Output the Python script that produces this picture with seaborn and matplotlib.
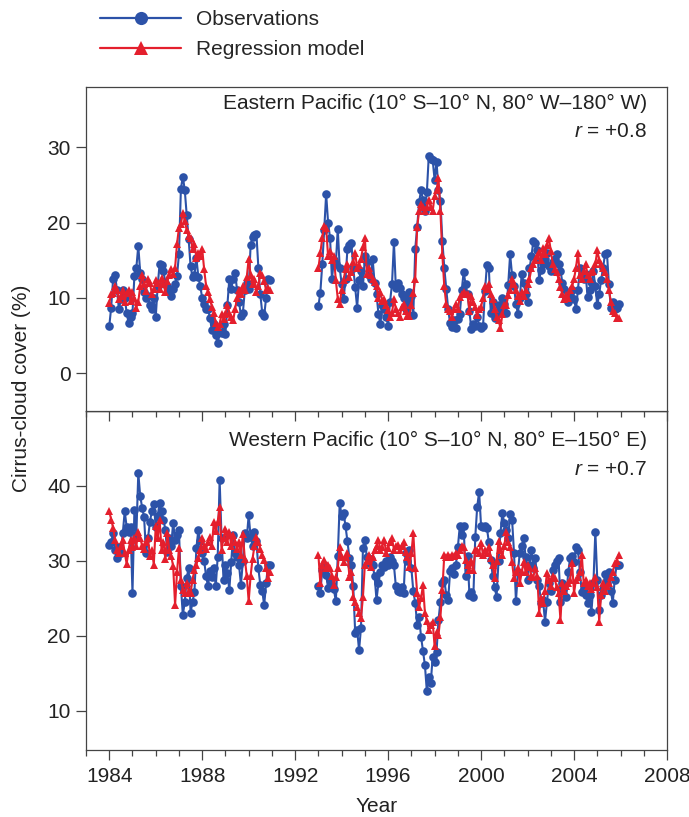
import numpy as np
import pandas as pd
import matplotlib
matplotlib.use("Agg")
import matplotlib.pyplot as plt
from matplotlib.lines import Line2D
from matplotlib.ticker import MultipleLocator, NullFormatter
import seaborn as sns

# monthly values, Jan 1984 - Dec 1990 and Jan 1993 - Dec 2005 (one row per year)
east_obs_a = [
    6.2, 8.7, 12.5, 13.0, 11.0, 8.5, 9.8, 11.0, 10.0, 8.0, 6.6, 7.5,
    8.0, 12.9, 14.0, 16.9, 13.3, 12.5, 10.8, 10.0, 10.2, 9.0, 8.5, 10.0,
    7.4, 11.5, 14.5, 14.3, 13.5, 12.0, 11.5, 11.0, 10.3, 11.2, 11.8, 12.9,
    15.8, 24.5, 26.1, 24.3, 21.0, 17.8, 14.2, 12.7, 13.0, 15.3, 12.8, 11.5,
    10.0, 9.2, 8.5, 8.5, 7.3, 5.7, 6.5, 5.0, 4.0, 5.5, 5.3, 6.5,
    5.2, 9.0, 12.5, 11.2, 12.5, 13.3, 11.0, 9.5, 7.6, 8.0, 11.0, 12.0,
    11.2, 17.0, 18.1, 18.3, 18.5, 14.0, 10.5, 8.0, 7.6, 10.0, 12.5, 12.3,
]
east_mod_a = [
    9.3, 10.5, 10.7, 11.5, 11.0, 9.8, 10.2, 11.0, 9.5, 10.6, 11.0, 9.6,
    10.8, 10.0, 8.7, 9.5, 11.5, 13.0, 11.8, 10.9, 12.5, 12.0, 10.5, 11.2,
    12.3, 12.0, 11.2, 12.6, 11.8, 10.8, 12.2, 13.0, 13.8, 13.2, 14.0, 17.2,
    19.3, 19.8, 21.3, 20.2, 19.0, 18.2, 18.0, 16.5, 17.2, 15.3, 16.0, 15.5,
    16.5, 13.8, 11.6, 10.8, 9.8, 8.8, 8.0, 6.6, 6.1, 6.5, 7.8, 7.2,
    7.8, 9.0, 8.0, 7.5, 7.0, 8.5, 10.0, 11.0, 10.5, 11.5, 11.0, 12.7,
    15.2, 13.0, 11.8, 12.5, 10.8, 11.5, 13.3, 13.0, 12.2, 11.0, 11.3, 11.0,
]
east_obs_b = [
    8.9, 10.7, 14.5, 19.0, 23.8, 20.0, 18.0, 12.5, 15.0, 14.5, 19.2, 14.0,
    11.8, 9.8, 12.5, 16.5, 17.0, 17.3, 14.0, 11.4, 8.7, 12.4, 13.5, 11.5,
    15.5, 14.8, 13.0, 12.5, 15.2, 12.0, 10.5, 7.9, 6.5, 9.0, 8.5, 7.5,
    6.3, 9.5, 11.8, 17.4, 11.3, 12.0, 11.3, 10.5, 10.0, 8.5, 9.5, 10.8,
    10.2, 7.7, 16.5, 19.4, 22.7, 24.3, 23.0, 21.5, 24.0, 28.9, 28.5, 28.3,
    25.7, 28.1, 24.3, 22.9, 17.6, 14.0, 11.2, 8.5, 6.6, 6.1, 7.0, 6.0,
    7.2, 7.8, 11.0, 13.4, 11.8, 10.5, 8.2, 5.8, 6.5, 6.2, 7.5, 6.3,
    6.0, 6.2, 10.9, 14.3, 14.0, 8.0, 9.5, 7.3, 8.0, 9.0, 8.5, 10.0,
    9.2, 8.0, 11.7, 15.8, 13.0, 11.5, 9.2, 7.9, 10.0, 13.2, 12.0, 10.5,
    9.4, 13.9, 15.5, 17.6, 17.3, 16.4, 12.4, 13.7, 14.5, 15.1, 16.0, 14.2,
    13.5, 14.8, 15.2, 15.8, 14.5, 13.6, 12.0, 11.2, 10.0, 9.5, 10.4, 11.0,
    9.8, 8.5, 11.0, 14.0, 13.0, 12.5, 13.1, 10.1, 11.0, 12.1, 13.5, 11.5,
    9.0, 10.5, 12.4, 14.0, 15.8, 15.9, 11.8, 8.7, 9.5, 8.5, 8.7, 9.2,
]
east_mod_b = [
    13.9, 16.0, 18.0, 19.6, 19.3, 15.5, 16.2, 15.0, 15.5, 12.3, 9.9, 9.2,
    11.0, 12.4, 13.8, 14.5, 12.8, 13.4, 14.8, 15.9, 14.0, 14.4, 15.2, 16.7,
    18.0, 13.2, 14.0, 13.0, 12.5, 12.1, 11.5, 10.0, 10.8, 9.6, 9.8, 9.0,
    8.4, 7.4, 8.0, 9.8, 8.5, 8.0, 7.4, 8.8, 9.2, 8.3, 7.6, 7.6,
    9.0, 10.7, 12.5, 19.4, 21.5, 22.5, 22.0, 21.5, 22.0, 23.0, 22.0, 21.5,
    23.5, 24.3, 25.9, 21.5, 15.7, 11.5, 9.2, 8.5, 8.3, 7.4, 8.5, 9.2,
    8.5, 10.1, 10.5, 10.8, 10.5, 10.5, 8.3, 10.3, 9.5, 8.8, 7.7, 8.5,
    8.8, 10.0, 11.5, 11.2, 11.8, 10.5, 9.8, 8.5, 7.5, 7.0, 6.0, 7.8,
    9.1, 9.0, 10.4, 11.0, 12.5, 11.8, 11.0, 10.2, 9.6, 10.8, 10.3, 11.0,
    11.8, 12.5, 13.9, 14.5, 15.0, 15.5, 16.1, 15.0, 16.6, 15.8, 17.0, 18.0,
    16.2, 14.5, 13.8, 13.4, 12.5, 11.4, 10.5, 9.8, 10.4, 10.0, 11.0, 11.5,
    12.5, 14.0, 16.0, 13.0, 12.5, 13.5, 14.5, 13.0, 12.5, 13.4, 13.6, 14.5,
    16.3, 15.0, 14.5, 14.0, 13.4, 12.5, 11.0, 9.5, 8.3, 8.0, 7.3, 7.3,
]
west_obs_a = [
    32.1, 32.5, 33.7, 31.5, 30.4, 31.9, 31.0, 33.7, 36.6, 34.5, 33.9, 34.5,
    25.7, 36.8, 33.5, 41.7, 38.6, 37.1, 35.8, 31.0, 33.0, 35.2, 36.6, 37.6,
    34.5, 36.0, 37.7, 36.6, 35.5, 34.1, 31.2, 33.0, 32.0, 35.1, 32.8, 33.5,
    34.1, 26.6, 22.8, 24.5, 27.7, 29.1, 23.1, 24.5, 25.9, 31.7, 34.1, 32.6,
    31.0, 30.0, 28.0, 26.6, 28.6, 27.8, 29.0, 26.6, 30.5, 40.8, 33.0, 27.5,
    29.5, 28.4, 26.1, 29.9, 33.5, 31.0, 30.5, 29.5, 26.8, 30.0, 33.7, 33.0,
    36.1, 33.2, 32.0, 33.9, 32.6, 29.0, 26.8, 26.0, 24.1, 27.0, 29.5, 29.5,
]
west_mod_a = [
    36.6, 35.5, 34.4, 32.8, 31.5, 31.0, 32.0, 32.8, 31.0, 29.6, 31.5, 32.8,
    31.8, 33.0, 32.0, 33.9, 33.0, 32.0, 31.6, 32.5, 33.0, 30.7, 31.5, 29.5,
    34.6, 33.0, 35.5, 31.5, 32.5, 30.2, 33.7, 31.5, 30.6, 29.3, 24.1, 28.5,
    31.7, 27.5, 26.1, 25.7, 27.0, 26.0, 25.7, 27.5, 28.8, 29.5, 30.4, 31.5,
    33.0, 32.0, 31.6, 32.5, 33.2, 32.0, 35.2, 34.0, 35.2, 37.2, 31.5, 33.0,
    34.2, 32.5, 33.8, 32.0, 33.5, 32.5, 31.6, 32.5, 30.8, 33.6, 30.3, 28.0,
    24.6, 28.0, 30.3, 32.0, 33.2, 32.5, 31.6, 30.8, 30.1, 29.0, 27.7, 28.5,
]
west_obs_b = [
    26.6, 25.7, 28.8, 29.5, 28.1, 26.4, 27.5, 26.8, 26.2, 24.6, 30.6, 37.7,
    36.0, 36.4, 34.6, 32.6, 30.4, 29.5, 26.6, 20.4, 20.8, 18.1, 21.1, 31.7,
    32.8, 30.5, 29.7, 30.2, 29.4, 28.0, 24.8, 27.0, 28.5, 29.4, 29.2, 30.0,
    29.4, 30.5, 30.0, 29.4, 26.6, 26.0, 25.9, 26.5, 25.7, 31.1, 30.0, 31.5,
    29.0, 26.0, 24.4, 21.5, 22.5, 19.9, 18.0, 16.1, 12.6, 14.5, 13.7, 17.2,
    16.5, 17.9, 22.1, 24.5, 27.0, 27.5, 25.5, 24.8, 28.6, 29.0, 28.3, 29.5,
    31.8, 34.6, 33.5, 34.6, 28.0, 30.6, 25.5, 25.9, 25.2, 33.2, 37.2, 39.2,
    34.6, 34.5, 34.6, 34.4, 32.5, 30.1, 28.0, 26.5, 25.2, 30.0, 33.7, 36.4,
    35.0, 34.1, 33.0, 36.3, 35.5, 31.1, 24.6, 28.5, 31.1, 32.0, 33.0, 30.5,
    27.5, 29.5, 31.5, 29.0, 30.4, 27.5, 26.6, 24.4, 24.8, 21.9, 24.5, 27.0,
    26.0, 28.8, 29.5, 30.0, 30.4, 24.5, 27.0, 26.5, 25.2, 28.5, 30.4, 30.6,
    29.8, 31.8, 31.5, 28.5, 25.9, 26.3, 25.5, 24.4, 25.5, 23.2, 27.0, 33.9,
    27.5, 23.5, 25.5, 26.3, 28.3, 27.0, 28.5, 26.0, 24.4, 27.5, 29.5, 29.5,
]
west_mod_b = [
    30.8, 27.0, 29.5, 30.1, 29.0, 29.5, 29.1, 28.0, 26.8, 27.9, 29.0, 31.9,
    30.5, 29.9, 30.5, 31.1, 27.9, 28.5, 25.2, 24.5, 23.9, 23.0, 22.4, 25.2,
    29.5, 30.0, 30.8, 29.2, 30.5, 31.5, 32.0, 32.8, 31.5, 31.9, 32.8, 31.0,
    31.7, 32.5, 33.0, 31.5, 32.0, 32.1, 31.5, 32.0, 32.5, 31.2, 30.5, 29.2,
    31.0, 33.7, 29.1, 25.7, 23.9, 25.0, 26.8, 23.1, 22.0, 20.8, 21.5, 21.9,
    18.6, 20.5, 20.1, 22.5, 26.1, 30.8, 30.5, 30.8, 30.5, 30.8, 30.6, 31.0,
    30.8, 31.5, 32.0, 31.9, 30.1, 29.5, 28.8, 30.0, 28.8, 31.5, 31.5, 31.0,
    32.4, 30.8, 31.5, 31.0, 31.9, 30.4, 29.5, 27.7, 30.0, 32.6, 31.5, 30.8,
    32.0, 33.9, 32.5, 31.8, 29.8, 27.7, 28.5, 29.1, 27.0, 28.5, 29.9, 28.5,
    29.5, 29.2, 28.0, 27.9, 29.0, 28.0, 23.1, 25.0, 24.4, 26.0, 28.4, 27.5,
    26.6, 28.0, 27.7, 26.5, 25.7, 22.1, 27.0, 26.0, 26.6, 27.0, 27.5, 29.7,
    25.7, 27.5, 27.9, 28.5, 30.8, 27.0, 27.5, 26.6, 27.0, 26.2, 27.0, 27.9,
    26.5, 21.9, 25.5, 27.0, 26.0, 26.6, 27.0, 27.9, 28.5, 29.7, 30.0, 30.8,
]

series_names = ["Observations", "Regression model"]
colors = {"Observations": "#2c52a8", "Regression model": "#e41f2d"}
markers = {"Observations": "o", "Regression model": "^"}


def decimal_years(start, end):
    d = pd.date_range(start, end, freq="MS")
    return d.year + (d.month - 1) / 12.0


years_a = decimal_years("1984-01-01", "1990-12-01")
years_b = decimal_years("1993-01-01", "2005-12-01")


def panel_frame(obs_a, mod_a, obs_b, mod_b):
    parts = []
    for name, va, vb in [(series_names[0], obs_a, obs_b), (series_names[1], mod_a, mod_b)]:
        parts.append(pd.DataFrame({"year": years_a, "cover": va, "series": name, "seg": 0}))
        parts.append(pd.DataFrame({"year": years_b, "cover": vb, "series": name, "seg": 1}))
    return pd.concat(parts, ignore_index=True)


east_df = panel_frame(east_obs_a, east_mod_a, east_obs_b, east_mod_b)
west_df = panel_frame(west_obs_a, west_mod_a, west_obs_b, west_mod_b)

sns.set_theme(style="ticks")
plt.rcParams["font.family"] = ["Liberation Sans", "DejaVu Sans"]
plt.rcParams["mathtext.fontset"] = "custom"
plt.rcParams["mathtext.it"] = "Liberation Sans:italic"
plt.rcParams["mathtext.rm"] = "Liberation Sans"

W, H = 689, 817
fig = plt.figure(figsize=(W / 100, H / 100), dpi=100)
left, right = 86 / W, 667 / W
y_top, y_mid, y_bot = 1 - 87 / H, 1 - 410.7 / H, 1 - 750 / H
ax2 = fig.add_axes([left, y_bot, right - left, y_mid - y_bot])
ax1 = fig.add_axes([left, y_mid, right - left, y_top - y_mid], sharex=ax2)

for ax, df in [(ax1, east_df), (ax2, west_df)]:
    sns.lineplot(data=df, x="year", y="cover", hue="series", style="series",
                 hue_order=series_names, style_order=series_names,
                 units="seg", estimator=None, palette=colors, markers=markers,
                 dashes=False, markersize=6.2, markeredgewidth=0, linewidth=1.5,
                 legend=False, ax=ax)

spine_color = "#444444"
text_color = "#222222"
for ax in (ax1, ax2):
    for s in ax.spines.values():
        s.set_visible(True)
        s.set_color(spine_color)
        s.set_linewidth(0.9)
    ax.set_xlim(1983, 2008)
    ax.xaxis.set_major_locator(MultipleLocator(4))
    ax.xaxis.set_minor_locator(MultipleLocator(1))
    ax.tick_params(axis="x", which="major", direction="out", length=7, width=0.9,
                   color=spine_color, labelsize=15, pad=5.5, labelcolor=text_color)
    ax.tick_params(axis="x", which="minor", direction="out", length=4, width=0.9,
                   color=spine_color)
    ax.tick_params(axis="y", which="major", direction="out", length=7, width=0.9,
                   color=spine_color, labelsize=15, pad=4, labelcolor=text_color)
    ax.set_ylabel("")
    ax.set_xlabel("")

ax1.set_ylim(-5, 38)
ax1.set_yticks([0, 10, 20, 30])
ax1.tick_params(axis="x", which="both", bottom=False, labelbottom=False)

ax2.set_ylim(4.8, 50)
ax2.set_yticks([10, 20, 30, 40])
ax2.set_xlabel("Year", fontsize=15, labelpad=8, color=text_color)

# inward ticks along the shared border between the panels
top_ax = ax2.secondary_xaxis("top")
top_ax.xaxis.set_major_locator(MultipleLocator(4))
top_ax.xaxis.set_minor_locator(MultipleLocator(1))
top_ax.xaxis.set_major_formatter(NullFormatter())
top_ax.tick_params(axis="x", which="major", direction="in", length=7, width=0.9,
                   color=spine_color)
top_ax.tick_params(axis="x", which="minor", direction="in", length=4, width=0.9,
                   color=spine_color)
top_ax.spines["top"].set_color(spine_color)
top_ax.spines["top"].set_linewidth(0.9)

ax1.text(0.966, 0.95, "Eastern Pacific (10\u00b0 S\u201310\u00b0 N, 80\u00b0 W\u2013180\u00b0 W)",
         transform=ax1.transAxes, ha="right", va="center", fontsize=15, color=text_color)
ax1.text(0.966, 0.861, "$r$ = +0.8", transform=ax1.transAxes, ha="right", va="center",
         fontsize=15, color=text_color)
ax2.text(0.966, 0.911, "Western Pacific (10\u00b0 S\u201310\u00b0 N, 80\u00b0 E\u2013150\u00b0 E)",
         transform=ax2.transAxes, ha="right", va="center", fontsize=15, color=text_color)
ax2.text(0.966, 0.826, "$r$ = +0.7", transform=ax2.transAxes, ha="right", va="center",
         fontsize=15, color=text_color)

fig.text(22 / W, 1 - 388 / H, "Cirrus-cloud cover (%)", rotation=90, ha="center",
         va="center", fontsize=15, color=text_color)

handles = [Line2D([], [], color=colors[n], marker=markers[n], markersize=9.5,
                  markeredgewidth=0, linewidth=1.6) for n in series_names]
fig.legend(handles, series_names, loc="upper left", bbox_to_anchor=(100 / W, 1 - 10 / H),
           frameon=False, fontsize=15, handlelength=3.9, handletextpad=0.7,
           labelspacing=0.55, borderpad=0, borderaxespad=0)

fig.savefig("out.png", dpi=100)
